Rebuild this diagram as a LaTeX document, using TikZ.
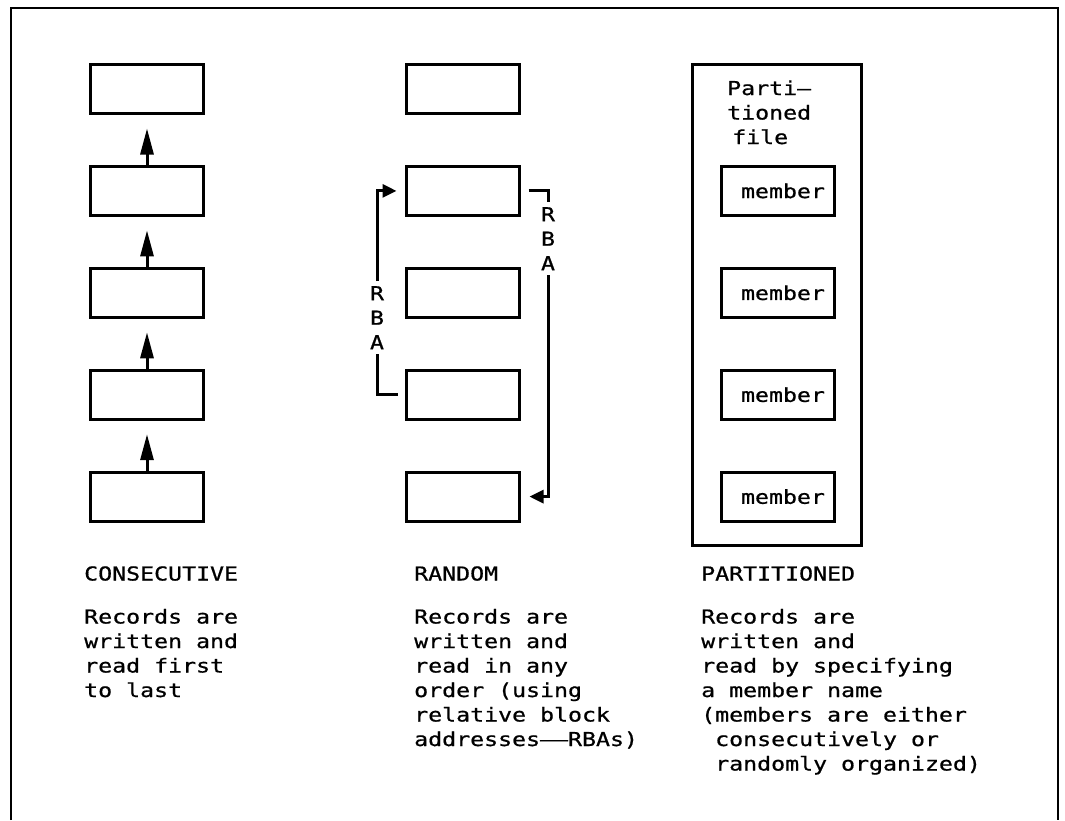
\documentclass[tikz,border=0pt]{standalone}
\usepackage{fontspec}
\newfontfamily\lgfont[FakeStretch=1.21,FakeBold=0.8]{DejaVu Sans Mono}
\usetikzlibrary{arrows.meta}
% a dash two character cells wide
\newcommand{\longdash}{\scalebox{2}[1]{—}}

\begin{document}
\begin{tikzpicture}[x=1pt,y=-1pt,
  every node/.style={inner sep=0pt},
  txt/.style={font=\lgfont\fontsize{19.2pt}{24.5pt}\selectfont},
  rec/.style={draw, line width=3pt, minimum width=113pt, minimum height=49pt},
  conn/.style={line width=3pt},
  seqarrow/.style={conn, -{Triangle[length=26pt,width=13pt]}, shorten >=13.5pt},
  rbaarrow/.style={conn, -{Triangle[length=14pt,width=13pt]}},
  rbalabel/.style={txt, align=center, inner sep=5pt, anchor=north},
  block/.style={txt, align=left, anchor=base west},
]
\useasboundingbox (0,0) rectangle (1065,820);

% open frame round the three file types
\draw[line width=2.5pt] (11,820) -- (11,8) -- (1058,8) -- (1058,820);

% consecutive: blocks read first to last
\foreach \i/\y in {1/89,2/190.9,3/292.8,4/394.7,5/496.6}
  \node[rec] (c\i) at (147,\y) {};
\foreach \a/\b in {5/4,4/3,3/2,2/1}
  \draw[seqarrow] (c\a.north) -- (c\b.south);

% random: blocks reached by relative block address
\foreach \i/\y in {1/89,2/190.9,3/292.8,4/394.7,5/496.6}
  \node[rec] (r\i) at (463,\y) {};
\node[rbalabel] (rbaL) at (377,281) {R\\B\\A};
\node[rbalabel] (rbaR) at (548,202) {R\\B\\A};
\draw[conn, shorten <=7.5pt] (r4.west) -| (rbaL.south);
\draw[rbaarrow, shorten >=8.5pt] (rbaL.north) |- (r2.west);
\draw[conn, shorten <=7.5pt] (r2.east) -| (rbaR.north);
\draw[rbaarrow, shorten >=8.5pt] (rbaR.south) |- (r5.east);

% partitioned: a file made of members
\node[draw, line width=3pt, minimum width=169pt, minimum height=481pt] (pf) at (777,305) {};
% multi-line blocks are placed by the baseline of their last line
\node[block] (pftitle) at (727,144)
  {Parti–\\tioned\\\hspace*{5pt}file};
\foreach \i/\y in {1/190.9,2/292.8,3/394.7,4/496.6}
  \node[rec, txt] (m\i) at (777.5,\y) {\hspace*{11pt}member};

% captions
\node[txt, anchor=base west] (hc) at (84,580.5) {CONSECUTIVE};
\node[block] (dc) at (84,697)
  {Records are\\written and\\read first\\to last};

\node[txt, anchor=base west] (hr) at (414,580.5) {RANDOM};
\node[block] (dr) at (414,746)
  {Records are\\written and\\read in any\\order (using\\relative block\\addresses\longdash RBAs)};

\node[txt, anchor=base west] (hp) at (701,580.5) {PARTITIONED};
\node[block] (dp) at (701,770.5)
  {Records are\\written and\\read by specifying\\a member name\\(members are either\\\hspace*{14pt}consecutively or\\\hspace*{14pt}randomly organized)};
\end{tikzpicture}
\end{document}
